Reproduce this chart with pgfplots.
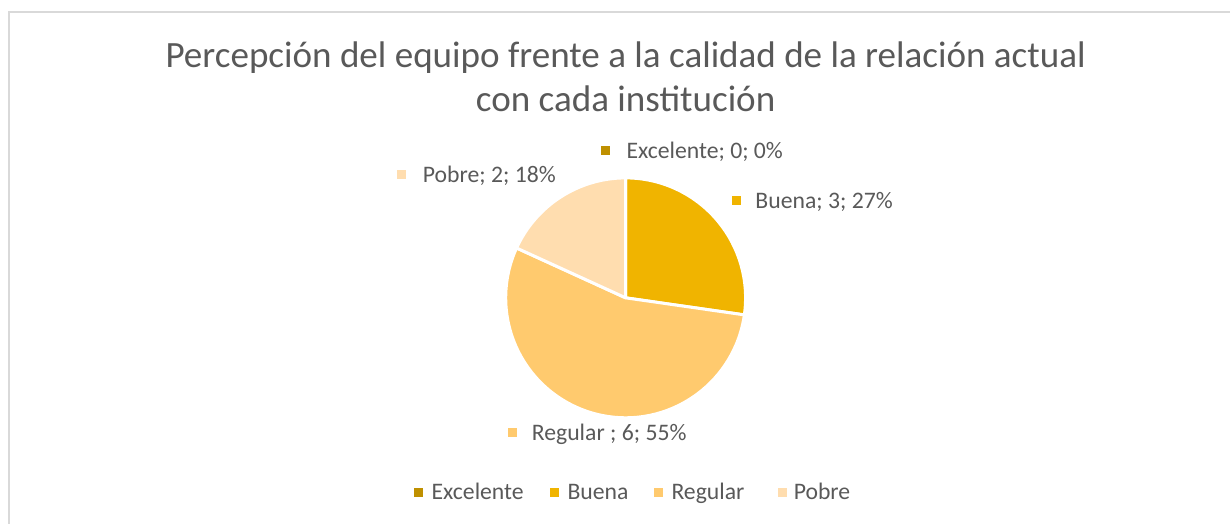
\documentclass[border=0pt]{standalone}
\usepackage{fontspec}
\setmainfont{Carlito}
\usepackage{pgfplots}
\usepackage{pgfplotstable}
\pgfplotsset{compat=1.18}
\definecolor{cExc}{RGB}{191,144,0}
\definecolor{cBuena}{RGB}{240,180,0}
\definecolor{cReg}{RGB}{255,202,110}
\definecolor{cPob}{RGB}{255,221,175}
\definecolor{txtgray}{RGB}{89,89,89}
\definecolor{framegray}{RGB}{217,217,217}

\pgfplotstableread{
cat value
Excelente 0
Buena 3
Regular 6
Pobre 2
}\piedata

\begin{document}
\begin{tikzpicture}
\pgfplotstablegetelem{0}{value}\of\piedata \let\vExc\pgfplotsretval
\pgfplotstablegetelem{1}{value}\of\piedata \let\vBuena\pgfplotsretval
\pgfplotstablegetelem{2}{value}\of\piedata \let\vReg\pgfplotsretval
\pgfplotstablegetelem{3}{value}\of\piedata \let\vPob\pgfplotsretval
\pgfmathsetmacro\total{\vExc+\vBuena+\vReg+\vPob}
% angles, clockwise from 12 o'clock
\pgfmathsetmacro\aA{90-360*\vExc/\total}
\pgfmathsetmacro\aB{\aA-360*\vBuena/\total}
\pgfmathsetmacro\aC{\aB-360*\vReg/\total}
\pgfmathsetmacro\aD{\aC-360*\vPob/\total}
\begin{axis}[
    x=1pt, y=1pt,
    xmin=0, xmax=1231, ymin=0, ymax=524,
    hide axis, clip=false,
]
\path (axis cs:0,0) rectangle (axis cs:1231,524);
\draw[framegray, line width=1.4pt] (axis cs:9,0) -- (axis cs:9,512) -- (axis cs:1231,512);

% title
\node[anchor=base, inner sep=0pt, text=txtgray, font=\fontsize{37.1}{44}\selectfont] at (axis cs:626,456) {Percepción del equipo frente a la calidad de la relación actual};
\node[anchor=base, inner sep=0pt, text=txtgray, font=\fontsize{37.1}{44}\selectfont] at (axis cs:626,412) {con cada institución};

% slices
\filldraw[fill=cBuena, draw=white, line width=3pt, line join=round]
  (axis cs:626,226) -- ([shift={(\aA:120pt)}]axis cs:626,226) arc[start angle=\aA, end angle=\aB, radius=120pt] -- cycle;
\filldraw[fill=cReg, draw=white, line width=3pt, line join=round]
  (axis cs:626,226) -- ([shift={(\aB:120pt)}]axis cs:626,226) arc[start angle=\aB, end angle=\aC, radius=120pt] -- cycle;
\filldraw[fill=cPob, draw=white, line width=3pt, line join=round]
  (axis cs:626,226) -- ([shift={(\aC:120pt)}]axis cs:626,226) arc[start angle=\aC, end angle=\aD, radius=120pt] -- cycle;

% label and legend keys
\addplot[only marks, mark=square*, mark size=4pt, color=cExc] coordinates {(606,374) (418,32)};
\addplot[only marks, mark=square*, mark size=4pt, color=cBuena] coordinates {(737,324) (555,32)};
\addplot[only marks, mark=square*, mark size=4pt, color=cReg] coordinates {(512,92) (659,32)};
\addplot[only marks, mark=square*, mark size=4pt, color=cPob] coordinates {(401,350) (783,32)};

% data labels
\begin{scope}[every node/.append style={anchor=base west, inner sep=0pt, text=txtgray, font=\fontsize{23.7}{28}\selectfont}]
\node at (axis cs:626.7,365) {Excelente; 0; 0\%};
\node at (axis cs:755.7,315) {Buena; 3; 27\%};
\node at (axis cs:423,341) {Pobre; 2; 18\%};
\node at (axis cs:532,83) {Regular ; 6; 55\%};
% legend
\node at (axis cs:431.7,24) {Excelente};
\node at (axis cs:567.7,24) {Buena};
\node at (axis cs:671.7,24) {Regular};
\node at (axis cs:794,24) {Pobre};
\end{scope}
\end{axis}
\end{tikzpicture}
\end{document}
